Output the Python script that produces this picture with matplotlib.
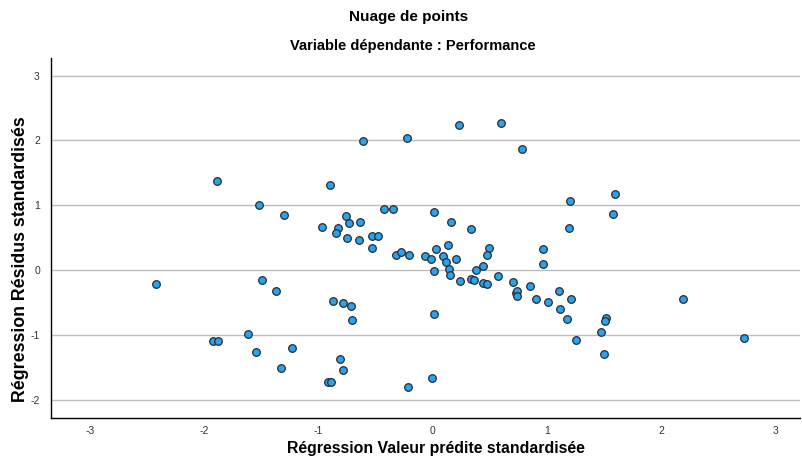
import matplotlib
matplotlib.use("Agg")
import matplotlib.pyplot as plt

plt.rcParams['font.family'] = ['Liberation Sans', 'DejaVu Sans']
plt.rcParams['axes.unicode_minus'] = False

# valeurs prédites standardisées (x) et résidus standardisés (y)
pred = [-1.89, -1.52, -1.30, -0.61, -0.23, 0.225, 0.60, 0.776, -0.90, -0.43,
        -0.35, 0.01, -0.97, -0.83, -0.85, -0.76, -0.73, -0.64, -0.75, -0.65,
        -0.53, -0.48, -0.53, 0.16, 0.33, 0.96, -0.32, -0.28, -0.21, -0.07,
        -0.02, 0.03, 0.09, 0.13, 0.205, 0.49, 0.47, 1.20, 1.59, 1.58,
        1.19, -2.42, -1.49, -1.37, -1.62, -1.92, -1.88, -1.55, -1.23, -1.33,
        0.115, 0.01, 0.14, 0.15, 0.24, 0.33, 0.36, 0.38, 0.44, 0.435,
        0.47, 0.57, 0.70, 0.73, 0.74, 0.74, 0.85, 0.90, 1.01, 0.96,
        -0.875, -0.79, -0.72, -0.71, 0.007, -0.81, -0.79, -0.92, -0.895, -0.22,
        -0.01, 1.10, 1.21, 1.11, 1.17, 1.25, 1.515, 1.51, 1.47, 1.50,
        2.19, 2.72]
resid = [1.37, 1.00, 0.85, 1.99, 2.04, 2.23, 2.27, 1.86, 1.31, 0.94,
         0.94, 0.89, 0.66, 0.65, 0.57, 0.84, 0.73, 0.74, 0.50, 0.46,
         0.52, 0.53, 0.34, 0.74, 0.64, 0.32, 0.23, 0.28, 0.24, 0.21,
         0.17, 0.32, 0.21, 0.38, 0.17, 0.34, 0.23, 1.06, 1.17, 0.87,
         0.65, -0.22, -0.16, -0.32, -0.98, -1.10, -1.10, -1.27, -1.20, -1.51,
         0.13, -0.02, 0.01, -0.08, -0.17, -0.14, -0.16, 0.005, 0.06, -0.20,
         -0.22, -0.09, -0.19, -0.36, -0.33, -0.40, -0.25, -0.44, -0.50, 0.10,
         -0.48, -0.51, -0.56, -0.77, -0.68, -1.37, -1.54, -1.72, -1.72, -1.80,
         -1.67, -0.33, -0.45, -0.60, -0.76, -1.08, -0.74, -0.79, -0.96, -1.30,
         -0.45, -1.05]

xticks = [-3, -2, -1, 0, 1, 2, 3]
yticks = [-2, -1, 0, 1, 2, 3]

fig = plt.figure(figsize=(8.03, 4.68), dpi=100)
ax = fig.add_axes([0.0635, 0.107, 0.9325, 0.769])

ax.scatter(pred, resid, s=30, color='#29a3ef', edgecolors='#2b2b2b',
           linewidths=0.9, zorder=3)

ax.set_xlim(-3.34, 3.21)
ax.set_ylim(-2.28, 3.27)
ax.set_xticks(xticks)
ax.set_yticks(yticks)
ax.tick_params(length=0, labelsize=7.5, labelcolor='#333333', pad=8)
ax.tick_params(axis='x', pad=6)
ax.yaxis.grid(True, color='#bdbdbd', linewidth=1)
ax.set_axisbelow(True)
for s in ['top', 'right']:
    ax.spines[s].set_visible(False)
for s in ['left', 'bottom']:
    ax.spines[s].set_color('black')
    ax.spines[s].set_linewidth(1)

ax.set_xlabel("Régression Valeur prédite standardisée", fontsize=11.4,
              fontweight='bold')
ax.set_ylabel("Régression Résidus standardisés", fontsize=12.8,
              fontweight='bold')
ax.xaxis.set_label_coords(0.514, -0.064)
ax.yaxis.set_label_coords(-0.030, 0.44)

fig.text(0.509, 0.963, "Nuage de points", ha='center', va='center',
         fontsize=11, fontweight='bold')
fig.text(0.514, 0.901, "Variable dépendante : Performance", ha='center',
         va='center', fontsize=10.5, fontweight='bold')

fig.savefig("out.png", dpi=100)
